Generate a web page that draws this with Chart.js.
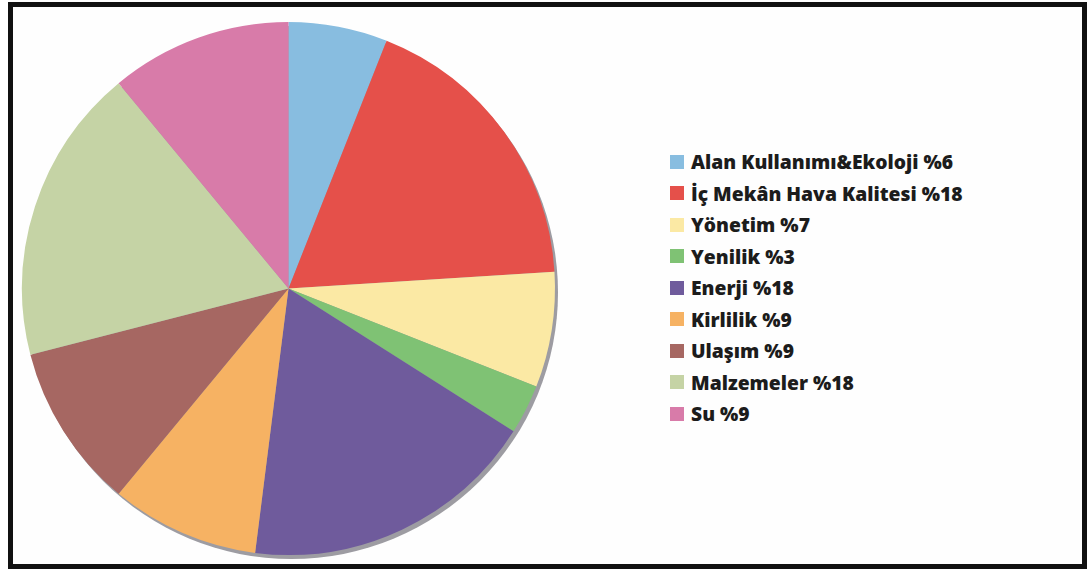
<!DOCTYPE html>
<html>
<head>
<meta charset="utf-8">
<script src="https://cdn.jsdelivr.net/npm/chart.js@4"></script>
<style>
    html, body { margin: 0; padding: 0; background: #fff; }
    body { width: 1088px; height: 570px; position: relative; overflow: hidden; }
    #frame {
        position: absolute; left: 8px; top: 2px; width: 1079px; height: 567px;
        box-sizing: border-box; border: 5px solid #111; background: #fefefe;
    }
    #chartBox { position: absolute; left: 12px; top: 12px; width: 553px; height: 553px; }
    #legend {
        position: absolute; left: 670px; top: 146px;
        font-family: "Open Sans", Roboto, sans-serif; font-weight: 800;
        font-size: 19.3px; color: #1c1c1c;
    }
    .row { height: 31.5px; display: flex; align-items: center; white-space: nowrap; }
    .box { width: 14px; height: 14px; margin-right: 7px; flex: none; }
</style>
</head>
<body>
<div id="frame"></div>
<div id="chartBox"><canvas id="pieChart"></canvas></div>
<div id="legend"></div>
<script>
// Kategoriler ve değerler (dilimler)
const etiketler = [
    'Alan Kullanımı&Ekoloji %6',
    'İç Mekân Hava Kalitesi %18',
    'Yönetim %7',
    'Yenilik %3',
    'Enerji %18',
    'Kirlilik %9',
    'Ulaşım %9',
    'Malzemeler %18',
    'Su %9'
];
const degerler = [6, 18, 7, 3, 18, 9, 10, 18, 11];
const renkler = ['#88bde0', '#e5504a', '#fbe9a4', '#7fc274', '#6f5b9c', '#f6b263', '#a66762', '#c5d3a5', '#d87ba9'];

// Gölge: pastanın arkasına gri bir daire
const golgePlugin = {
    id: 'golge',
    beforeDatasetsDraw(chart) {
        const arc = chart.getDatasetMeta(0).data[0];
        if (!arc) return;
        const ctx = chart.ctx;
        ctx.save();
        ctx.fillStyle = '#9d9ca2';
        ctx.beginPath();
        ctx.arc(arc.x + 3, arc.y + 4, arc.outerRadius, 0, Math.PI * 2);
        ctx.fill();
        ctx.restore();
    }
};

new Chart(document.getElementById('pieChart'), {
    type: 'pie',
    data: {
        labels: etiketler,
        datasets: [{
            data: degerler,
            backgroundColor: renkler,
            borderWidth: 0
        }]
    },
    options: {
        responsive: true,
        maintainAspectRatio: false,
        animation: false,
        layout: { padding: 10 },
        plugins: {
            legend: { display: false },
            tooltip: { enabled: false }
        }
    },
    plugins: [golgePlugin]
});

// Leyenda HTML
document.getElementById('legend').innerHTML = etiketler.map((e, i) =>
    `<div class="row"><span class="box" style="background:${renkler[i]}"></span>${e}</div>`
).join('');
</script>
</body>
</html>
